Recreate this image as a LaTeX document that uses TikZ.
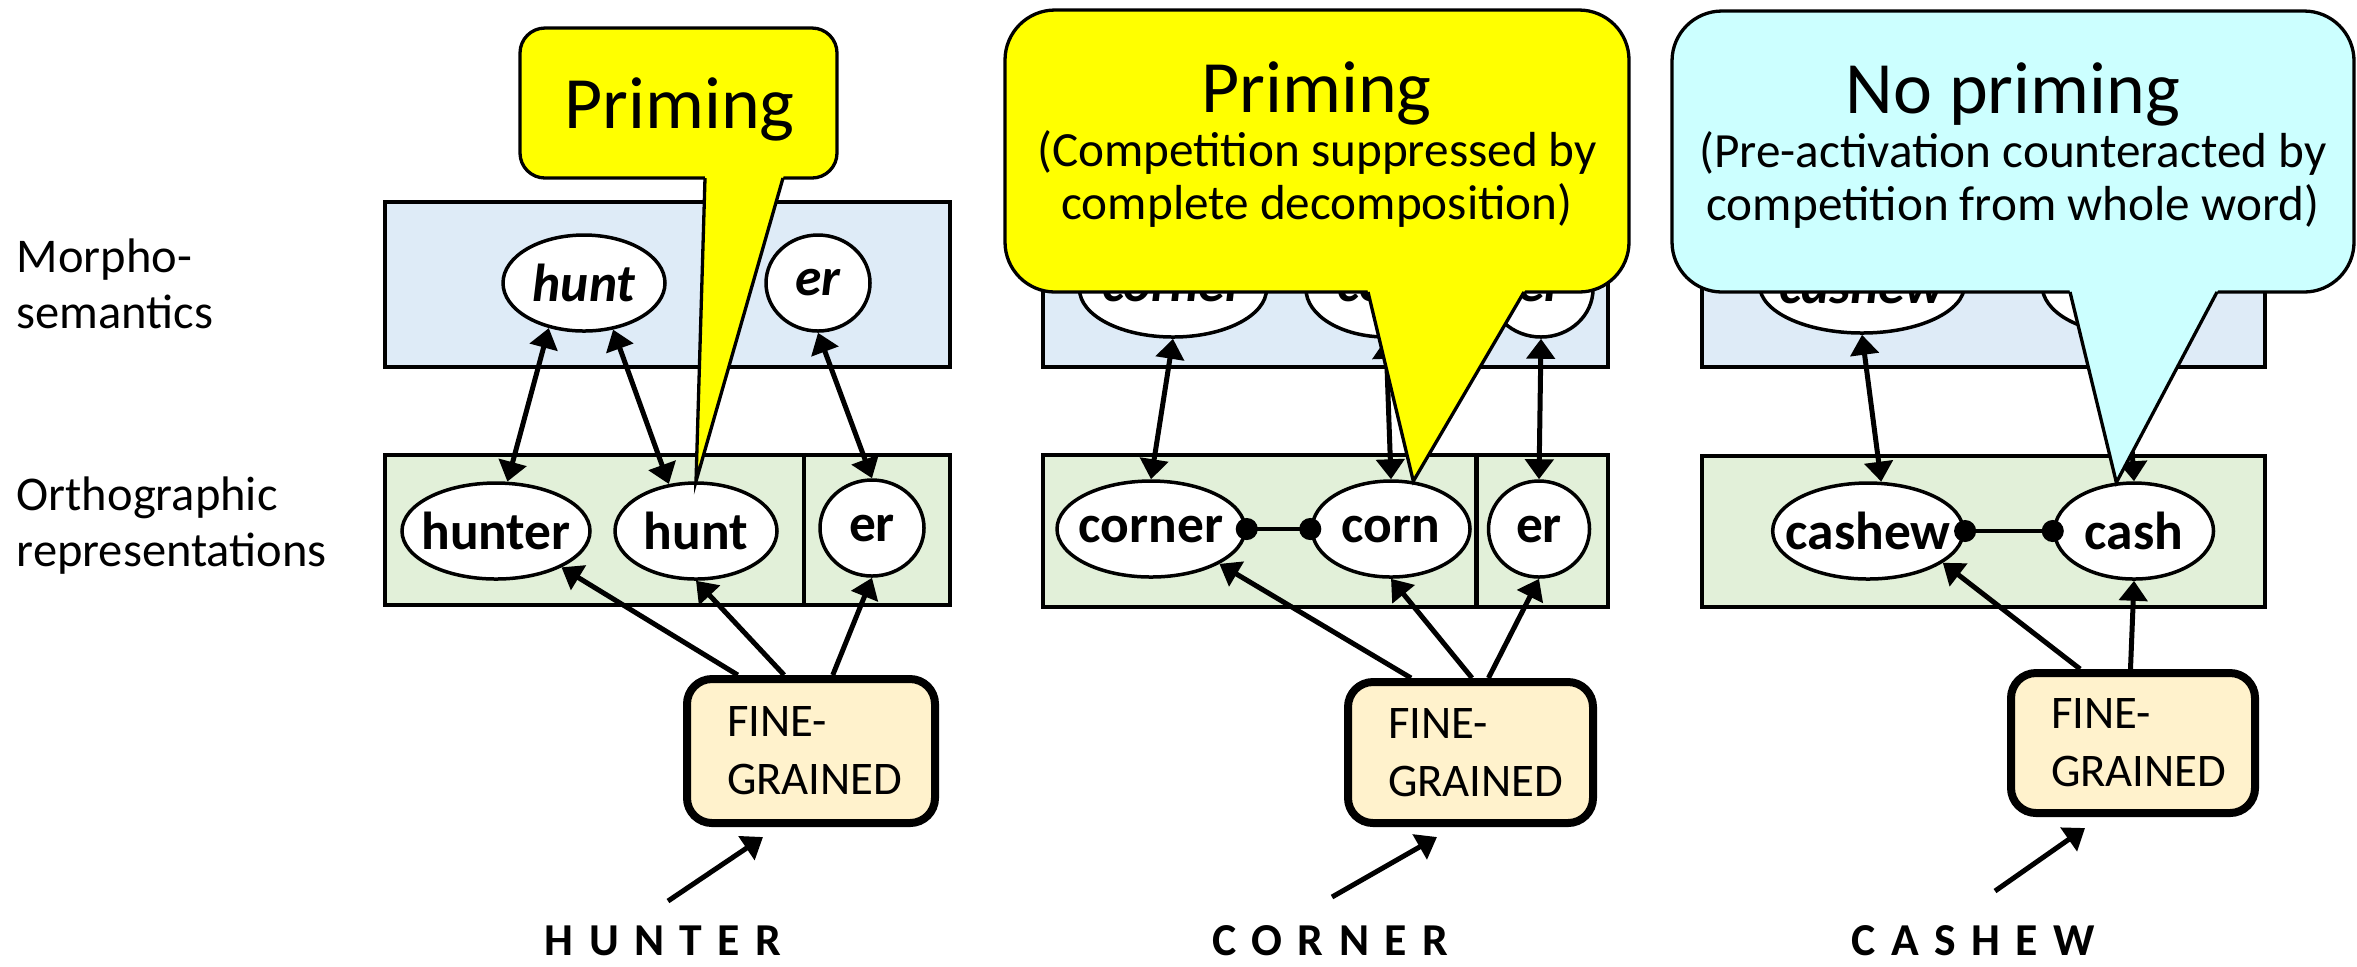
\documentclass[tikz,border=0pt]{standalone}
\usepackage{fontspec}
\setmainfont{Carlito}
\usetikzlibrary{positioning, shapes.geometric, arrows.meta, calc}
\definecolor{morphfill}{HTML}{DEEBF7}
\definecolor{orthofill}{HTML}{E2F0D9}
\definecolor{finefill}{HTML}{FFF2CC}
\definecolor{primefill}{HTML}{FFFF00}
\definecolor{noprimefill}{HTML}{CCFFFF}

\begin{document}
\begin{tikzpicture}[x=1mm, y=-1mm,
    lyr/.style={draw, line width=0.45mm, inner sep=0pt},
    ortho/.style={draw, ellipse, fill=white, line width=0.35mm, inner xsep=-1.5mm,
      inner ysep=0pt, minimum height=9.6mm, font=\fontsize{15.2}{17}\selectfont\bfseries},
    morph/.style={ortho, font=\fontsize{15.2}{17}\selectfont\bfseries\itshape},
    fine/.style={draw, rounded corners=2.5mm, line width=0.8mm, fill=finefill,
      align=left, inner xsep=4mm, inner ysep=0pt, font=\fontsize{13.3}{16.5}\selectfont},
    stim/.style={anchor=base, inner sep=0pt,
      font=\fontsize{13}{15}\selectfont\bfseries\addfontfeature{LetterSpace=11}},
    side/.style={anchor=north west, align=left, inner sep=0pt, font=\fontsize{13.8}{15.9}\selectfont},
    arr/.style={-{Triangle[length=2mm,width=2.8mm]}, line width=0.5mm},
    biarr/.style={{Triangle[length=2mm,width=2.8mm]}-{Triangle[length=2mm,width=2.8mm]},
      line width=0.5mm},
    link/.style={{Circle[length=2.2mm]}-{Circle[length=2.2mm]}, line width=0.45mm,
      shorten <=-1.1mm, shorten >=-1.1mm},
    bubble/.style={draw, line width=0.33mm},
    headline/.style={anchor=base, inner sep=0pt, font=\fontsize{21}{24}\selectfont},
    note/.style={align=center, inner sep=0pt, font=\fontsize{14}{15}\selectfont}]
\useasboundingbox (0,0) rectangle (235.7,96.6);

% --- row labels ---
\node[side] (lmorph) at (1.6,23.8) {Morpho-\\semantics};
\node[side] (lortho) at (1.6,47.6) {Orthographic\\representations};

% --- HUNTER ---
\node[lyr, fill=morphfill, minimum width=56.5mm, minimum height=16.5mm] (mbox1) at (66.75,28.45) {};
\node[lyr, fill=orthofill, minimum width=56.5mm, minimum height=15mm] (obox1) at (66.75,53) {};
\draw[lyr] ($(obox1.north west)!0.74!(obox1.north east)$) -- ($(obox1.south west)!0.74!(obox1.south east)$);
\node[morph, minimum width=16.2mm] (mhunt1) at (58.4,28.3) {hunt};
\node[morph, minimum width=10.4mm] (mer1) at (81.8,28.3) {er};
\node[ortho, minimum width=18.8mm] (ohunter) at (49.6,53.1) {hunter};
\node[ortho, minimum width=16.2mm] (ohunt1) at (69.6,53.1) {hunt};
\node[ortho, minimum width=10.4mm] (oer1) at (87.2,52.8) {er};
\node[fine, text width=16.8mm, minimum height=14.4mm] (fine1) at (81.1,75.1) {FINE-\\GRAINED};
\node[stim] (w1) at (66.3,95.5) {H U N T E R};
\draw[biarr] (mhunt1.232) -- (ohunter.77);
\draw[biarr] (mhunt1.302) -- (ohunt1.120);
\draw[biarr] (mer1.south) -- (oer1.north);
\draw[arr] ($(fine1.north west)!0.214!(fine1.north east)$) -- (ohunter.331);
\draw[arr] ($(fine1.north west)!0.395!(fine1.north east)$) -- (ohunt1.south);
\draw[arr] ($(fine1.north west)!0.585!(fine1.north east)$) -- (oer1.south);
\draw[arr] ($(fine1.south)+(-14.3,7.4)$) -- ($(fine1.south)+(-4.8,1)$);

% --- CORNER ---
\node[lyr, fill=morphfill, minimum width=56.5mm, minimum height=16.5mm] (mbox2) at (132.55,28.45) {};
\node[lyr, fill=orthofill, minimum width=56.5mm, minimum height=15.2mm] (obox2) at (132.55,53.1) {};
\draw[lyr] ($(obox2.north west)!0.765!(obox2.north east)$) -- ($(obox2.south west)!0.765!(obox2.south east)$);
\node[morph, minimum width=18.7mm] (mcorner) at (117.3,28.9) {corner};
\node[morph, minimum width=16mm] (mcorn) at (138.6,28.9) {corn};
\node[morph, minimum width=10.4mm] (mer2) at (154.1,28.9) {er};
\node[ortho, minimum width=18.8mm] (ocorner) at (115.1,52.9) {corner};
\node[ortho, minimum width=15.8mm] (ocorn) at (139.1,52.9) {corn};
\node[ortho, minimum width=10.1mm] (oer2) at (153.9,52.9) {er};
\node[fine, text width=16.5mm, minimum height=14.1mm] (fine2) at (147.05,75.25) {FINE-\\GRAINED};
\node[stim] (w2) at (133,95.5) {C O R N E R};
\draw[link] (ocorner) -- (ocorn);
\draw[biarr] (mcorner.south) -- (ocorner.north);
\draw[biarr] (mcorn.south) -- (ocorn.north);
\draw[biarr] (mer2.south) -- (oer2.north);
\draw[arr] ($(fine2.north west)!0.265!(fine2.north east)$) -- (ocorner.333);
\draw[arr] ($(fine2.north west)!0.506!(fine2.north east)$) -- (ocorn.south);
\draw[arr] ($(fine2.north west)!0.571!(fine2.north east)$) -- (oer2.south);
\draw[arr] ($(fine2.south)+(-13.85,7)$) -- ($(fine2.south)+(-3.35,1)$);

% --- CASHEW ---
\node[lyr, fill=morphfill, minimum width=56.3mm, minimum height=16.5mm] (mbox3) at (198.35,28.45) {};
\node[lyr, fill=orthofill, minimum width=56.3mm, minimum height=15.1mm] (obox3) at (198.35,53.15) {};
\node[morph, minimum width=20.5mm] (mcashew) at (186.2,28.5) {cashew};
\node[morph, minimum width=16.6mm] (mcash) at (212.5,28.5) {cash};
\node[ortho, minimum width=19mm] (ocashew) at (186.8,53.1) {cashew};
\node[ortho, minimum width=15.9mm] (ocash) at (213.4,53.1) {cash};
\node[fine, text width=16.4mm, minimum height=14mm] (fine3) at (213.3,74.3) {FINE-\\GRAINED};
\node[stim] (w3) at (197.3,95.5) {C A S H E W};
\draw[link] (ocashew) -- (ocash);
\draw[biarr] (mcashew.south) -- (ocashew.75);
\draw[biarr] (mcash.south) -- (ocash.north);
\draw[arr] ($(fine3.north west)!0.29!(fine3.north east)$) -- (ocashew.337);
\draw[arr] ($(fine3.north west)!0.49!(fine3.north east)$) -- (ocash.south);
\draw[arr] ($(fine3.south)+(-13.8,7.4)$) -- ($(fine3.south)+(-4.8,1.1)$);

% --- speech bubbles: box, then the tail laid over its bottom edge ---
\draw[bubble, fill=primefill, rounded corners=2.5mm] (52,2.8) rectangle (83.7,17.8);
\fill[primefill] ($(ohunt1.north)!1.03!(70.5,17.8)$) -- (ohunt1.north) -- ($(ohunt1.north)!1.03!(78.3,17.8)$) -- cycle;
\draw[bubble] (70.5,17.8) -- (ohunt1.north) -- (78.3,17.8);
\node[headline] (t1) at (67.95,12.8) {Priming};

\draw[bubble, fill=primefill, rounded corners=5mm] (100.5,1) rectangle (162.9,29.2);
\fill[primefill] ($(ocorn.65)!1.04!(136.8,29.2)$) -- (ocorn.65) -- ($(ocorn.65)!1.04!(152.4,29.2)$) -- cycle;
\draw[bubble] (136.8,29.2) -- (ocorn.65) -- (152.4,29.2);
\node[headline] (t2) at (131.65,11.2) {Priming};
\node[note] (n2) at (131.7,17.9) {(Competition suppressed by\\complete decomposition)};

\draw[bubble, fill=noprimefill, rounded corners=5mm] (167.2,1.1) rectangle (235.4,29.2);
\fill[noprimefill] ($(ocash.110)!1.04!(207,29.2)$) -- (ocash.110) -- ($(ocash.110)!1.04!(221.7,29.2)$) -- cycle;
\draw[bubble] (207,29.2) -- (ocash.110) -- (221.7,29.2);
\node[headline] (t3) at (201.3,11.3) {No priming};
\node[note] (n3) at (201.3,18) {(Pre-activation counteracted by\\competition from whole word)};
\end{tikzpicture}
\end{document}
